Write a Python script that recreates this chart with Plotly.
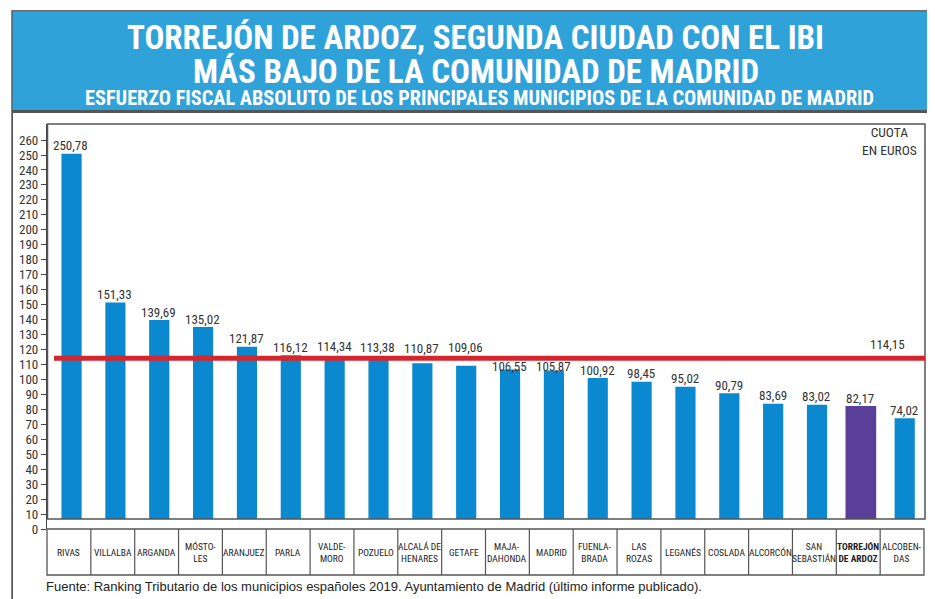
import plotly.graph_objects as go

# ---------------- data ----------------
categories = ["RIVAS", "VILLALBA", "ARGANDA", "MÓSTOLES", "ARANJUEZ", "PARLA",
              "VALDEMORO", "POZUELO", "ALCALÁ DE HENARES", "GETAFE", "MAJADAHONDA",
              "MADRID", "FUENLABRADA", "LAS ROZAS", "LEGANÉS", "COSLADA",
              "ALCORCÓN", "SAN SEBASTIÁN", "TORREJÓN DE ARDOZ", "ALCOBENDAS"]
category_labels = ["RIVAS", "VILLALBA", "ARGANDA", "MÓSTO-<br>LES", "ARANJUEZ", "PARLA",
                   "VALDE-<br>MORO", "POZUELO", "ALCALÁ DE<br>HENARES", "GETAFE",
                   "MAJA-<br>DAHONDA", "MADRID", "FUENLA-<br>BRADA", "LAS<br>ROZAS",
                   "LEGANÉS", "COSLADA", "ALCORCÓN", "SAN<br>SEBASTIÁN",
                   "<b>TORREJÓN<br>DE ARDOZ</b>", "ALCOBEN-<br>DAS"]
values = [250.78, 151.33, 139.69, 135.02, 121.87, 116.12, 114.34, 113.38, 110.87,
          109.06, 106.55, 105.87, 100.92, 98.45, 95.02, 90.79, 83.69, 83.02,
          82.17, 74.02]
average_value = 114.15
average_label = "114,15"
highlight = "TORREJÓN DE ARDOZ"
y_ticks = list(range(0, 261, 10))

title_1 = "TORREJÓN DE ARDOZ, SEGUNDA CIUDAD CON EL IBI"
title_2 = "MÁS BAJO DE LA COMUNIDAD DE MADRID"
subtitle = "ESFUERZO FISCAL ABSOLUTO DE LOS PRINCIPALES MUNICIPIOS DE LA COMUNIDAD DE MADRID"
unit_label = "CUOTA<br>EN EUROS"
source = "Fuente: Ranking Tributario de los municipios españoles 2019. Ayuntamiento de Madrid (último informe publicado)."

# ---------------- styles ----------------
OFF = 8  # page body margin of the rendered html
W, H = 935 - OFF, 599 - OFF
L, R, T, B = 44, 924, 124, 529  # plot area in page pixels
PX_PER_UNIT = 1.496
Y_MAX = (B - T) / PX_PER_UNIT

BLUE = "#0a88d0"
PURPLE = "#5a3f98"
RED = "#d5262e"
HEADER = "#2fa2da"
COND = "Liberation Sans Narrow, Arial Narrow, Roboto Condensed, Roboto, sans-serif"
SANS = "Liberation Sans, Arial, sans-serif"


def px(x):
    return (x - L) / (R - L)


def py(y):
    return (B - y) / (B - T)


n = len(categories)
bar_colors = [PURPLE if c == highlight else BLUE for c in categories]
bar_widths = [0.7 if c == highlight else 0.46 for c in categories]
bar_offsets = [-w / 2 + 0.06 for w in bar_widths]
# vertical gap (px) between bar top and centre of its value label
label_gap = {"VALDEMORO": 11, "POZUELO": 12, "ALCALÁ DE HENARES": 15, "GETAFE": 18,
             "MAJADAHONDA": 3, "MADRID": 4}

fig = go.Figure()
fig.add_trace(go.Bar(
    x=categories, y=values,
    marker=dict(color=bar_colors, line=dict(width=0)),
    width=bar_widths, offset=bar_offsets,
    cliponaxis=False, hoverinfo="x+y",
))

shapes = []
# outer frame
shapes.append(dict(type="rect", xref="paper", yref="paper", x0=px(9), x1=px(931),
                   y0=py(640), y1=py(11), line=dict(color="#3c3c3c", width=1.5),
                   fillcolor="rgba(0,0,0,0)", layer="below"))
# header
shapes.append(dict(type="rect", xref="paper", yref="paper", x0=px(9.5), x1=px(930.5),
                   y0=py(110), y1=py(11.5), line=dict(width=0), fillcolor=HEADER, layer="below"))
shapes.append(dict(type="line", xref="paper", yref="paper", x0=px(9), x1=px(931),
                   y0=py(111.5), y1=py(111.5), line=dict(color="#555555", width=3)))
# white cover below the box baseline
shapes.append(dict(type="rect", xref="paper", yref="paper", x0=px(44.5), x1=px(925),
                   y0=py(529), y1=py(519), line=dict(width=0), fillcolor="white", layer="above"))
# plot box
shapes.append(dict(type="rect", xref="paper", yref="paper", x0=px(44.5), x1=px(925),
                   y0=py(519), y1=py(124), line=dict(color="#555555", width=1.5),
                   fillcolor="rgba(0,0,0,0)", layer="above"))
# average line
shapes.append(dict(type="line", xref="paper", yref="y", x0=px(51), x1=px(925),
                   y0=average_value, y1=average_value, line=dict(color=RED, width=5),
                   layer="above"))
# category table
shapes.append(dict(type="rect", xref="paper", yref="paper", x0=px(44), x1=px(924),
                   y0=py(575), y1=py(529), line=dict(color="#555555", width=1.3),
                   fillcolor="rgba(0,0,0,0)", layer="above"))
for k in range(1, n):
    xk = px(44 + k * (880 / n))
    shapes.append(dict(type="line", xref="paper", yref="paper", x0=xk, x1=xk,
                       y0=py(575), y1=py(529), line=dict(color="#555555", width=1.2)))

annotations = [
    dict(text=f"<b>{title_1}</b>", x=px(474), y=py(37.5), xref="paper", yref="paper",
         showarrow=False, font=dict(family=COND, size=33, color="white"),
         xanchor="center", yanchor="middle"),
    dict(text=f"<b>{title_2}</b>", x=px(474), y=py(71.5), xref="paper", yref="paper",
         showarrow=False, font=dict(family=COND, size=33, color="white"),
         xanchor="center", yanchor="middle"),
    dict(text=f"<b>{subtitle}</b>", x=px(478), y=py(98), xref="paper", yref="paper",
         showarrow=False, font=dict(family=COND, size=20.3, color="white"),
         xanchor="center", yanchor="middle"),
    dict(text=unit_label, x=px(889), y=py(141), xref="paper", yref="paper",
         showarrow=False, align="center", font=dict(family=COND, size=13.5, color="#333333"),
         xanchor="center", yanchor="middle"),
    dict(text=average_label, x=px(907), y=average_value, xref="paper", yref="y",
         yshift=4, showarrow=False, font=dict(family=COND, size=13, color="#333333"),
         xanchor="right", yanchor="bottom"),
    dict(text=source, x=px(41), y=py(586), xref="paper", yref="paper",
         showarrow=False, font=dict(family=SANS, size=13, color="#222222"),
         xanchor="left", yanchor="middle"),
]
# value labels above the bars
for c, v in zip(categories, values):
    annotations.append(dict(text=f"{v:.2f}".replace(".", ","), x=c, y=v, xref="x", yref="y",
                            xshift=2, yshift=label_gap.get(c, 8), showarrow=False,
                            font=dict(family=COND, size=13, color="#333333"),
                            xanchor="center", yanchor="middle"))
# category table labels
for c, lab in zip(categories, category_labels):
    annotations.append(dict(text=lab, x=c, y=py(552), xref="x", yref="paper",
                            showarrow=False, align="center",
                            font=dict(family=COND, size=9.5, color="#222222"),
                            xanchor="center", yanchor="middle"))

fig.update_layout(
    width=W, height=H,
    margin=dict(l=L - OFF, r=W - (R - OFF), t=T - OFF, b=H - (B - OFF), pad=0),
    paper_bgcolor="white", plot_bgcolor="white",
    separators=",.",
    showlegend=False,
    shapes=shapes,
    annotations=annotations,
    xaxis=dict(range=[-0.5, n - 0.5], showticklabels=False, showline=False,
               showgrid=False, zeroline=False, ticks="", fixedrange=True),
    yaxis=dict(range=[0, Y_MAX], tickvals=y_ticks, showline=True, linecolor="#444444",
               linewidth=1.3, ticks="outside", ticklen=5, tickcolor="#444444",
               tickfont=dict(family=COND, size=13, color="#333333"),
               showgrid=False, zeroline=False, fixedrange=True),
)

fig.write_html("out.html")
